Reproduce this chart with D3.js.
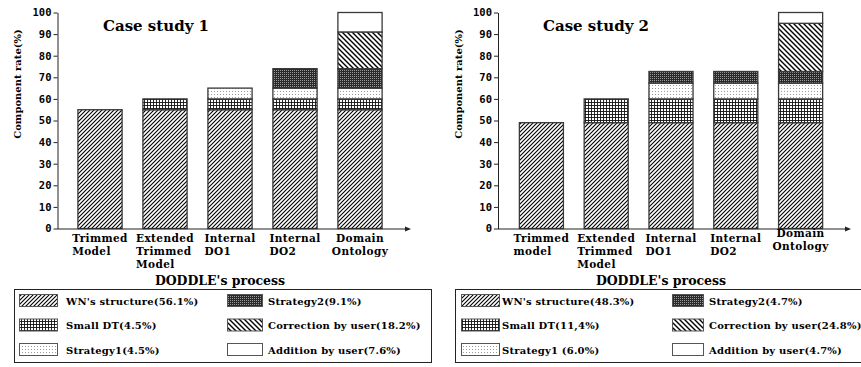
<!DOCTYPE html>
<html><head><meta charset="utf-8">
<script src="https://cdn.jsdelivr.net/npm/d3@7"></script>
<style>body{margin:0;background:#fff}svg{display:block}</style>
</head><body><svg id="c" width="861" height="367"></svg>
<script>
// ---------- data ----------
const categories1 = [["Trimmed","Model"],["Extended","Trimmed","Model"],["Internal","DO1"],["Internal","DO2"],["Domain","Ontology"]];
const categories2 = [["Trimmed","model"],["Extended","Trimmed","Model"],["Internal","DO1"],["Internal","DO2"],["Domain","Ontology"]];
const seriesKeys = ["wn","dt","s1","s2","corr","add"];
const seriesNames = ["WN's structure","Small DT","Strategy1","Strategy2","Correction by user","Addition by user"];
// case study 1
const wn1   = [55,55,55,55,55];
const dt1   = [0,5,5,5,5];
const s1_1  = [0,0,5,5,5];
const s2_1  = [0,0,0,9,9];
const corr1 = [0,0,0,0,17];
const add1  = [0,0,0,0,9];
// case study 2
const wn2   = [49,49,49,49,49];
const dt2   = [0,11,11,11,11];
const s1_2  = [0,0,7.3,7.3,7.3];
const s2_2  = [0,0,5.4,5.4,5.4];
const corr2 = [0,0,0,0,22.3];
const add2  = [0,0,0,0,5];
const legend1 = ["WN's structure(56.1%)","Small DT(4.5%)","Strategy1(4.5%)","Strategy2(9.1%)","Correction by user(18.2%)","Addition by user(7.6%)"];
const legend2 = ["WN's structure(48.3%)","Small DT(11,4%)","Strategy1 (6.0%)","Strategy2(4.7%)","Correction by user(24.8%)","Addition by user(4.7%)"];
const yTicks = [0,10,20,30,40,50,60,70,80,90,100];
const titles = ["Case study 1","Case study 2"];
const yLabel = "Component rate(%)";
const xTitle = "DODDLE's process";

// ---------- drawing ----------
const svg = d3.select("#c");
svg.append("rect").attr("width",861).attr("height",367).attr("fill","#fff");
const SERIF = "'DejaVu Serif', serif";
const MONO = "'DejaVu Sans Mono', monospace";

const defs = svg.append("defs");
function pat(id, w, h, build){
  const p = defs.append("pattern").attr("id",id).attr("patternUnits","userSpaceOnUse")
    .attr("width",w).attr("height",h);
  build(p);
}
pat("p-wn",4,4,p=>{
  p.append("rect").attr("width",4).attr("height",4).attr("fill","#fff");
  p.append("path").attr("d","M-1,1 L1,-1 M0,4 L4,0 M3,5 L5,3").attr("stroke","#000").attr("stroke-width",1.1);
});
pat("p-dt",3,3,p=>{
  p.append("rect").attr("width",3).attr("height",3).attr("fill","#fff");
  p.append("path").attr("d","M0,0.5 H3 M0.5,0 V3").attr("stroke","#111").attr("stroke-width",0.9);
});
pat("p-s1",3,3,p=>{
  p.append("rect").attr("width",3).attr("height",3).attr("fill","#fff");
  p.append("rect").attr("x",1).attr("y",1).attr("width",1).attr("height",1).attr("fill","#9a9a9a");
});
pat("p-s2",2,2,p=>{
  p.append("rect").attr("width",2).attr("height",2).attr("fill","#2a2a2a");
  p.append("rect").attr("x",0).attr("y",0).attr("width",1).attr("height",1).attr("fill","#9a9a9a");
});
pat("p-corr",5,5,p=>{
  p.append("rect").attr("width",5).attr("height",5).attr("fill","#fff");
  p.append("path").attr("d","M-1,4 L1,6 M0,0 L5,5 M4,-1 L6,1").attr("stroke","#000").attr("stroke-width",1.4);
});
pat("p-add",4,4,p=>{
  p.append("rect").attr("width",4).attr("height",4).attr("fill","#fff");
});
const fills = seriesKeys.map(k=>"url(#p-"+k+")");

function drawChart(cfg){
  const g = svg.append("g");
  const y = d3.scaleLinear().domain([0,100]).range([cfg.y0, cfg.y100]);
  const x = d3.scaleBand().domain(d3.range(cfg.cats.length)).range(cfg.band)
    .paddingInner(0.32).paddingOuter(0.16);

  const rows = cfg.cats.map((c,i)=>{
    const o = {i};
    seriesKeys.forEach((k,j)=>o[k]=cfg.series[j][i]);
    return o;
  });
  const stacked = d3.stack().keys(seriesKeys)(rows);

  // bars
  stacked.forEach((layer,li)=>{
    g.append("g").selectAll("rect").data(layer.filter(d=>d[1]-d[0]>0)).join("rect")
      .attr("x",d=>x(d.data.i)).attr("width",x.bandwidth())
      .attr("y",d=>y(d[1])).attr("height",d=>y(d[0])-y(d[1]))
      .attr("fill",fills[li]).attr("stroke","#3a3a3a").attr("stroke-width",1.3);
  });

  // y axis
  const ax = g.append("g").attr("transform",`translate(${cfg.axisX},0)`)
    .call(d3.axisLeft(y).tickValues(yTicks).tickSize(4).tickPadding(2).tickSizeOuter(0));
  ax.select(".domain").attr("stroke","#222");
  ax.selectAll(".tick line").attr("stroke","#222");
  ax.selectAll("text").attr("font-family",MONO).attr("font-weight","bold").attr("font-size","10.5px").attr("fill","#000");

  // x axis line with arrow
  g.append("line").attr("x1",cfg.axisX).attr("x2",cfg.axisEnd).attr("y1",cfg.y0+0.5).attr("y2",cfg.y0+0.5)
    .attr("stroke","#222").attr("stroke-width",1);
  g.append("path").attr("d",`M${cfg.axisEnd+4},${cfg.y0+0.5} l-6,-2.5 l0,5 Z`).attr("fill","#222");

  // x labels
  cfg.cats.forEach((lines,i)=>{
    const cx = x(i)+x.bandwidth()/2;
    const last = i===cfg.cats.length-1;
    const t = g.append("text").attr("font-family",SERIF).attr("font-weight","bold")
      .attr("font-size","10.5px").attr("letter-spacing","0.4px").attr("fill","#000");
    const first = t.append("tspan").text(lines[0]);
    const w = first.node().getComputedTextLength();
    const baseY = cfg.y0 + 13 + (last ? cfg.lastShift : 0);
    if(last){
      t.attr("text-anchor","middle");
      lines.forEach((l,k)=>{ (k===0?first:t.append("tspan").text(l)).attr("x",cx).attr("y",baseY+k*13); });
    } else {
      const sx = cx - w/2;
      lines.forEach((l,k)=>{ (k===0?first:t.append("tspan").text(l)).attr("x",sx).attr("y",baseY+k*13); });
    }
  });

  // title
  g.append("text").attr("x",cfg.titleX).attr("y",31).text(cfg.title)
    .attr("font-family",SERIF).attr("font-weight","bold").attr("font-size","15px");
  // y label
  g.append("text").attr("transform",`translate(${cfg.yLabX},84) rotate(-90)`).attr("text-anchor","middle")
    .text(yLabel).attr("font-family",SERIF).attr("font-weight","bold").attr("font-size","10px");
  // x title
  g.append("text").attr("x",cfg.xTitleX).attr("y",285).attr("text-anchor","middle").text(xTitle)
    .attr("font-family",SERIF).attr("font-weight","bold").attr("font-size","12.5px");

  // legend
  const lg = g.append("g");
  lg.append("rect").attr("x",cfg.leg.x+0.5).attr("y",289.5).attr("width",cfg.leg.w).attr("height",73)
    .attr("fill","#fff").attr("stroke","#222").attr("stroke-width",1);
  cfg.legend.forEach((lab,j)=>{
    const col = Math.floor(j/3), row = j%3;
    const cy = 301 + row*24.5;
    const sx = col===0 ? cfg.leg.s1 : cfg.leg.s2;
    const sw = col===0 ? 38 : cfg.leg.sw2;
    lg.append("rect").attr("x",sx+0.5).attr("y",cy-6.5).attr("width",sw).attr("height",12)
      .attr("fill",fills[j]).attr("stroke","#555").attr("stroke-width",1);
    lg.append("text").attr("x",col===0?cfg.leg.t1:cfg.leg.t2).attr("y",cy+3.5).text(lab)
      .attr("font-family",SERIF).attr("font-weight","bold").attr("font-size","10px").attr("letter-spacing","0.2px");
  });
}

drawChart({cats:categories1, series:[wn1,dt1,s1_1,s2_1,corr1,add1], legend:legend1, title:titles[0],
  axisX:57.5, axisEnd:407, y0:228.5, y100:12.5, band:[67.5,392.5], titleX:103, yLabX:21, xTitleX:220, lastShift:0,
  leg:{x:14, w:417, s1:19, t1:66, s2:227, sw2:35, t2:268}});
drawChart({cats:categories2, series:[wn2,dt2,s1_2,s2_2,corr2,add2], legend:legend2, title:titles[1],
  axisX:498, axisEnd:847, y0:228.5, y100:12.5, band:[509,833], titleX:543, yLabX:462, xTitleX:661, lastShift:-5,
  leg:{x:455, w:420, s1:461, t1:502, s2:672, sw2:31, t2:709}});
</script>
</body></html>
